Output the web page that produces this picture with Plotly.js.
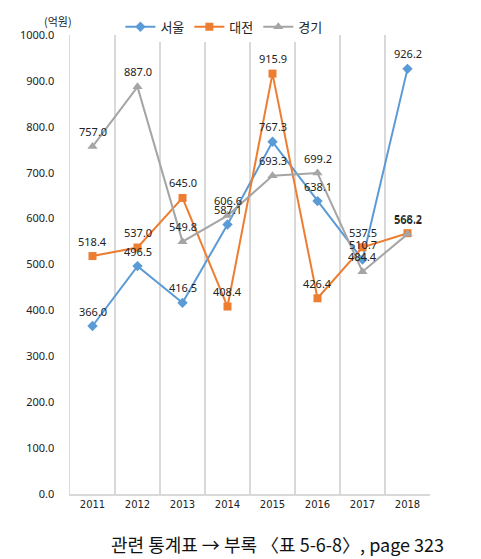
<!DOCTYPE html>
<html>
<head>
<meta charset="utf-8">
<script src="https://cdn.plot.ly/plotly-3.0.1.min.js"></script>
<style>html,body{margin:0;padding:0;background:#fff;}#chart{width:481px;height:559px;}</style>
</head>
<body>
<div id="chart"></div>
<script>
var years = ['2011','2012','2013','2014','2015','2016','2017','2018'];
var seoul = [366.0, 496.5, 416.5, 587.1, 767.3, 638.1, 510.7, 926.2];
var daejeon = [518.4, 537.0, 645.0, 408.4, 915.9, 426.4, 537.5, 568.2];
var gyeonggi = [757.0, 887.0, 549.8, 606.6, 693.3, 699.2, 484.4, 566.2];
var seriesNames = ['서울', '대전', '경기'];
var yTicks = [0, 100, 200, 300, 400, 500, 600, 700, 800, 900, 1000];

var colors = ['#5B9BD5', '#ED7D31', '#A5A5A5'];
var symbols = ['diamond', 'square', 'triangle-up'];
var sizes = [8, 8, 9];
var allData = [seoul, daejeon, gyeonggi];

var traces = allData.map(function(d, i){
  return {
    x: years, y: d, name: seriesNames[i], type: 'scatter', mode: 'lines+markers',
    line: {color: colors[i], width: 2},
    marker: {color: colors[i], symbol: symbols[i], size: sizes[i]},
    cliponaxis: false
  };
});

var annotations = [];
allData.forEach(function(d){
  d.forEach(function(v, j){
    annotations.push({x: j, y: v, xref: 'x', yref: 'y', text: v.toFixed(1),
      showarrow: false, yshift: 15, xanchor: 'center', yanchor: 'middle',
      font: {size: 11, color: '#222', family: 'Noto Sans, DejaVu Sans, sans-serif'}});
  });
});
annotations.push({xref: 'paper', yref: 'paper', x: -0.033, y: 1.03, xanchor: 'center', yanchor: 'middle',
  text: '(억원)', showarrow: false, font: {size: 11, color: '#222', family: 'Noto Sans CJK KR'}});
annotations.push({xref: 'paper', yref: 'paper', x: 0.575, y: -0.108, xanchor: 'center', yanchor: 'middle',
  text: '관련 통계표 → 부록 〈표 5-6-8〉, page 323', showarrow: false,
  font: {size: 18, color: '#111', family: 'Noto Sans CJK KR'}});

var layout = {
  width: 481, height: 559,
  margin: {l: 70, r: 51, t: 28, b: 65},
  paper_bgcolor: '#fff', plot_bgcolor: '#fff',
  showlegend: true,
  legend: {orientation: 'h', x: 0.14, y: 1.018, xanchor: 'left', yanchor: 'middle',
    font: {size: 13, color: '#222', family: 'Noto Sans CJK KR'}, itemwidth: 30, tracegroupgap: 0},
  xaxis: {type: 'category', range: [-0.5, 7.5], tickson: 'boundaries', showgrid: true,
    gridcolor: '#d9d9d9', gridwidth: 1.5, showline: true, linecolor: '#d9d9d9', linewidth: 1.5,
    ticks: '', tickfont: {size: 10, color: '#222', family: 'DejaVu Sans'}, zeroline: false, fixedrange: true},
  yaxis: {range: [0, 1000], tickvals: yTicks, ticktext: yTicks.map(function(v){return v.toFixed(1);}),
    showgrid: false, showline: true, linecolor: '#d9d9d9', linewidth: 1.5, zeroline: false, ticks: '',
    ticklabelstandoff: 12, tickfont: {size: 11, color: '#222', family: 'Noto Sans, DejaVu Sans, sans-serif'}, fixedrange: true},
  annotations: annotations
};

Plotly.newPlot('chart', traces, layout, {displayModeBar: false, staticPlot: true});
</script>
</body>
</html>
